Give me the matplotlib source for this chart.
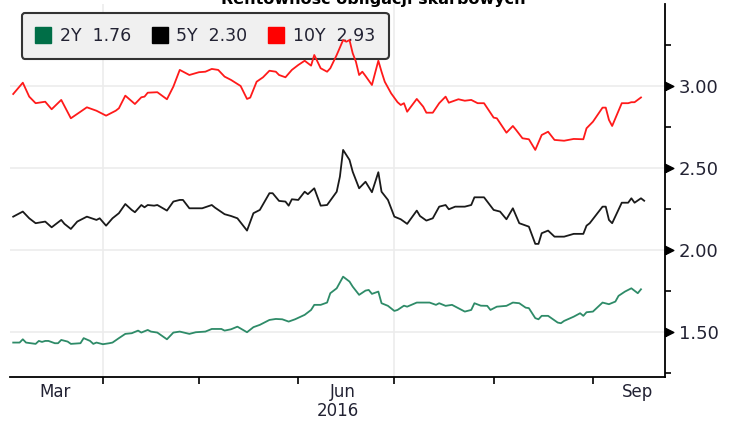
"""
Rentowność obligacji skarbowych -- 2Y / 5Y / 10Y yields, Mar-Sep 2016.
Bloomberg-style line chart: right-hand value axis, legend with last values.
"""

import numpy as np
import pandas as pd
import matplotlib
matplotlib.use("Agg")
import matplotlib.pyplot as plt
from matplotlib.lines import Line2D
from matplotlib.path import Path

# --- data: days counted from 2016-03-01, yields in % -------------------------
START = pd.Timestamp("2016-03-01")

y10_days = [3, 6, 8, 10, 13, 15, 18, 21, 24, 26,
            29, 32, 35, 36, 38, 41, 43, 44, 45, 48,
            51, 53, 55, 58, 61, 63, 65, 67, 69, 71,
            74, 76, 77, 79, 81, 83, 85, 86, 88, 90,
            92, 94, 96, 97, 99, 101, 102, 104, 106, 107,
            108, 109, 110, 111, 112, 113, 115, 117, 118, 119,
            121, 123, 124, 125, 126, 129, 131, 132, 134, 136,
            138, 139, 142, 144, 146, 148, 150, 153, 154, 157,
            159, 160, 162, 164, 166, 168, 170, 172, 175, 178,
            181, 182, 184, 187, 188, 189, 190, 193, 195, 196,
            197, 199]
y10 = [2.951, 3.020, 2.935, 2.895, 2.904, 2.858, 2.915, 2.803, 2.843, 2.870,
       2.849, 2.819, 2.849, 2.864, 2.941, 2.890, 2.931, 2.935, 2.959, 2.962,
       2.919, 2.996, 3.098, 3.067, 3.084, 3.087, 3.104, 3.098, 3.057, 3.037,
       3.000, 2.921, 2.929, 3.026, 3.053, 3.093, 3.087, 3.067, 3.053, 3.098,
       3.128, 3.154, 3.124, 3.189, 3.108, 3.087, 3.108, 3.189, 3.280, 3.270,
       3.280, 3.199, 3.148, 3.067, 3.087, 3.061, 3.006, 3.154, 3.087, 3.026,
       2.955, 2.901, 2.884, 2.895, 2.843, 2.921, 2.874, 2.837, 2.837, 2.895,
       2.935, 2.898, 2.919, 2.910, 2.915, 2.895, 2.895, 2.807, 2.803, 2.715,
       2.756, 2.732, 2.681, 2.675, 2.610, 2.701, 2.721, 2.671, 2.666, 2.677,
       2.675, 2.742, 2.782, 2.868, 2.868, 2.793, 2.756, 2.895, 2.895, 2.901,
       2.901, 2.93]

y5_days = [3, 6, 8, 10, 13, 15, 18, 19, 21, 23,
           26, 29, 30, 32, 34, 36, 38, 40, 41, 43,
           44, 45, 47, 48, 51, 53, 55, 56, 58, 62,
           65, 66, 69, 71, 73, 76, 78, 80, 83, 84,
           86, 88, 89, 90, 92, 94, 95, 97, 99, 101,
           104, 105, 106, 108, 109, 111, 113, 115, 117, 118,
           120, 122, 124, 126, 129, 130, 132, 134, 136, 138,
           139, 141, 144, 146, 147, 150, 153, 155, 157, 159,
           161, 164, 166, 167, 168, 170, 172, 175, 178, 181,
           182, 183, 187, 188, 189, 190, 193, 195, 196, 197,
           199, 200]
y5 = [2.203, 2.234, 2.193, 2.163, 2.173, 2.138, 2.183, 2.159, 2.128, 2.173,
      2.203, 2.183, 2.193, 2.148, 2.193, 2.224, 2.280, 2.244, 2.230, 2.274,
      2.260, 2.274, 2.270, 2.274, 2.240, 2.295, 2.305, 2.305, 2.254, 2.254,
      2.274, 2.258, 2.218, 2.207, 2.193, 2.118, 2.224, 2.244, 2.346, 2.346,
      2.299, 2.295, 2.270, 2.309, 2.305, 2.355, 2.340, 2.376, 2.270, 2.274,
      2.355, 2.447, 2.610, 2.549, 2.477, 2.376, 2.416, 2.352, 2.474, 2.355,
      2.305, 2.203, 2.187, 2.159, 2.240, 2.207, 2.179, 2.193, 2.264, 2.274,
      2.248, 2.264, 2.264, 2.274, 2.321, 2.321, 2.244, 2.234, 2.187, 2.254,
      2.163, 2.142, 2.037, 2.037, 2.102, 2.118, 2.081, 2.081, 2.098, 2.098,
      2.148, 2.163, 2.264, 2.264, 2.183, 2.163, 2.288, 2.288, 2.315, 2.288,
      2.315, 2.30]

y2_days = [3, 5, 6, 7, 10, 11, 12, 13, 14, 16,
           17, 18, 20, 21, 24, 25, 27, 28, 29, 31,
           33, 34, 36, 38, 40, 42, 43, 45, 46, 48,
           51, 53, 55, 58, 60, 63, 65, 68, 69, 71,
           73, 76, 78, 80, 83, 85, 87, 89, 91, 94,
           96, 97, 99, 101, 102, 104, 106, 108, 109, 111,
           113, 114, 115, 117, 118, 120, 122, 123, 125, 126,
           129, 133, 135, 136, 138, 140, 144, 146, 147, 149,
           151, 152, 154, 157, 159, 161, 163, 164, 166, 167,
           168, 170, 173, 174, 175, 178, 180, 181, 182, 184,
           187, 189, 191, 192, 194, 196, 198, 199]
y2 = [1.435, 1.435, 1.455, 1.435, 1.427, 1.445, 1.439, 1.445, 1.445, 1.431,
      1.431, 1.451, 1.441, 1.427, 1.431, 1.462, 1.445, 1.427, 1.435, 1.425,
      1.431, 1.435, 1.462, 1.488, 1.492, 1.508, 1.496, 1.512, 1.502, 1.496,
      1.455, 1.496, 1.502, 1.488, 1.498, 1.502, 1.518, 1.518, 1.508, 1.516,
      1.532, 1.498, 1.529, 1.543, 1.573, 1.579, 1.577, 1.563, 1.577, 1.604,
      1.634, 1.665, 1.665, 1.679, 1.736, 1.766, 1.837, 1.807, 1.776, 1.726,
      1.752, 1.756, 1.732, 1.746, 1.675, 1.659, 1.628, 1.634, 1.660, 1.654,
      1.679, 1.679, 1.665, 1.675, 1.659, 1.665, 1.624, 1.634, 1.675, 1.660,
      1.659, 1.634, 1.654, 1.659, 1.679, 1.675, 1.648, 1.645, 1.584, 1.577,
      1.598, 1.598, 1.557, 1.553, 1.567, 1.593, 1.614, 1.598, 1.620, 1.624,
      1.679, 1.669, 1.685, 1.720, 1.746, 1.766, 1.736, 1.76]

series_names = ["2Y", "5Y", "10Y"]
last_values = [1.76, 2.30, 2.93]
y_ticks = [1.50, 2.00, 2.50, 3.00]
month_labels = ["Mar", "Jun", "Sep"]
label_days = ["2016-03-17", "2016-06-15", "2016-09-15"]
month_starts = ["2016-04-01", "2016-05-01", "2016-06-01",
                "2016-07-01", "2016-08-01", "2016-09-01"]
grid_days = ["2016-04-01", "2016-07-01"]

LINE_COLORS = ["#2E8B68", "#1A1A1A", "#FF1A1A"]
SWATCH_COLORS = ["#006E47", "#000000", "#FF0000"]
TEXT = "#222233"


def to_dates(days):
    return START + pd.to_timedelta(days, unit="D")


def main():
    plt.rcParams["font.family"] = ["DejaVu Sans"]
    fig = plt.figure(figsize=(7.35, 4.21), dpi=100)
    ax = fig.add_axes([10 / 735, 1 - 377 / 421, 655 / 735, 373 / 421])

    # light grid first
    for yv in y_ticks:
        ax.axhline(yv, color="#ececec", lw=1.2, zorder=1)
    for d in grid_days:
        ax.axvline(pd.Timestamp(d), color="#ececec", lw=1.2, zorder=1)

    data = [(y2_days, y2), (y5_days, y5), (y10_days, y10)]
    for (days, vals), c in zip(data, LINE_COLORS):
        ax.plot(to_dates(days), vals, color=c, lw=1.3, zorder=6)

    ax.set_xlim(START + pd.Timedelta(days=2), START + pd.Timedelta(days=206.5))
    ax.set_ylim(1.225, 3.50)

    for s in ("left", "top"):
        ax.spines[s].set_visible(False)
    for s in ("right", "bottom"):
        ax.spines[s].set_linewidth(1.3)
        ax.spines[s].set_color("black")

    # y axis on the right, triangle markers for major ticks
    ax.yaxis.tick_right()
    ax.set_yticks(y_ticks)
    ax.set_yticklabels([f"{v:.2f}" for v in y_ticks])
    ax.set_yticks(np.arange(1.25, 3.51, 0.5), minor=True)
    ax.tick_params(axis="y", which="major", length=0, pad=10,
                   labelsize=13, labelcolor=TEXT)
    ax.tick_params(axis="y", which="minor", length=4, width=1.2,
                   direction="out", color="black")
    tri = Path([(0, -0.5), (1, 0), (0, 0.5), (0, -0.5)])
    ax.plot([1] * len(y_ticks), y_ticks, ls="", marker=tri, markersize=12,
            color="black", transform=ax.get_yaxis_transform(),
            clip_on=False, zorder=7)

    # x axis: month-start ticks, mid-month labels
    ax.set_xticks([pd.Timestamp(d) for d in label_days])
    ax.set_xticklabels(month_labels)
    ax.set_xticks([pd.Timestamp(d) for d in month_starts], minor=True)
    ax.tick_params(axis="x", which="major", length=0, pad=4,
                   labelsize=12, labelcolor=TEXT)
    ax.tick_params(axis="x", which="minor", length=5, width=1.2,
                   direction="out", color="black")
    fig.text(338 / 735, 1 - 411 / 421, "2016", ha="center", va="center",
             fontsize=12, color=TEXT)

    # legend with last values
    handles = [Line2D([], [], ls="", marker="s", markersize=12,
                      color=c) for c in SWATCH_COLORS]
    labels = [f"{n}  {v:.2f}" for n, v in zip(series_names, last_values)]
    leg = ax.legend(handles, labels, loc="upper left", ncol=3,
                    bbox_to_anchor=(0.018, 0.976), borderaxespad=0,
                    fontsize=12.5, frameon=True, fancybox=True,
                    handlelength=0.9, handletextpad=0.5, columnspacing=1.2,
                    borderpad=0.8, labelcolor=TEXT)
    frame = leg.get_frame()
    frame.set_facecolor("#f0f0f0")
    frame.set_edgecolor("#333333")
    frame.set_linewidth(1.5)
    frame.set_alpha(1)
    leg.set_zorder(5)

    # title, mostly cut off at the top edge as in the source image
    fig.text(373 / 735, 1 - 4 / 421, "Rentowność obligacji skarbowych",
             ha="center", va="baseline", fontsize=11.5, fontweight="bold",
             color="black")

    fig.savefig("out.png", dpi=100)


if __name__ == "__main__":
    main()
